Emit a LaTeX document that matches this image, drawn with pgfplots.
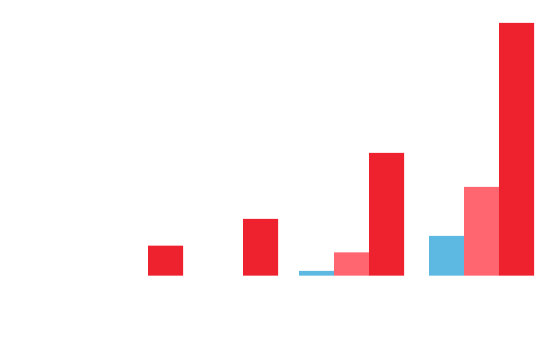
\documentclass[border=0pt]{standalone}
\usepackage{pgfplots}
\pgfplotsset{compat=1.18}
\definecolor{cred}{HTML}{EE222E}
\definecolor{cpink}{HTML}{FF6670}
\definecolor{cblue}{HTML}{5DB9E2}
\begin{document}
\begin{tikzpicture}
\begin{axis}[
  scale only axis,
  width=555pt, height=354pt,
  xmin=0, xmax=555,
  ymin=-78.3, ymax=275.7,
  axis line style={draw=none},
  ticks=none,
  ybar, bar width=35pt, bar shift=0pt,
  clip=false,
]
\addplot[fill=cblue, draw=none] coordinates {(316.5,4.7) (446.5,39.7)};
\addplot[fill=cpink, draw=none] coordinates {(351.5,23.4) (481.5,88.7)};
\addplot[fill=cred, draw=none] coordinates {(165.5,30) (260.5,56.7) (386.5,122.7) (516.5,252.7)};
\end{axis}
\end{tikzpicture}
\end{document}
